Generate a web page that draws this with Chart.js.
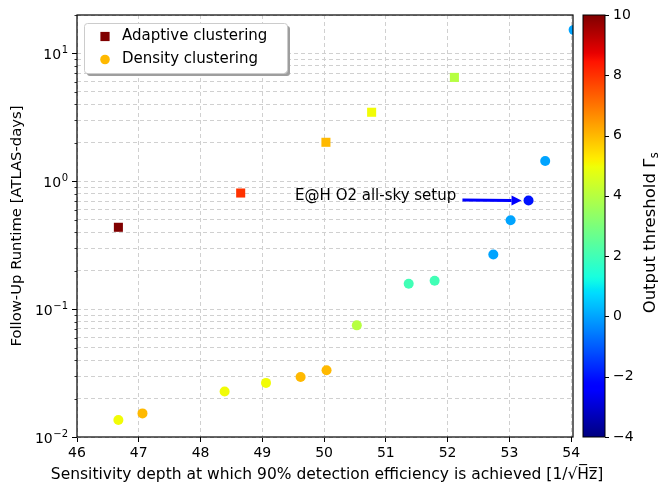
<!DOCTYPE html>
<html>
<head>
<meta charset="utf-8">
<script src="https://cdn.jsdelivr.net/npm/chart.js@4.4.1/dist/chart.umd.min.js"></script>
<style>
  html, body { margin: 0; padding: 0; background: #fff; }
  #wrap { width: 659px; height: 491px; }
</style>
</head>
<body>
<div id="wrap"><canvas id="chart" width="659" height="491"></canvas></div>
<script>
/* ── data ── */
const adaptiveX     = [46.67, 48.65, 50.03, 50.77, 52.11];
const adaptiveY     = [0.437, 0.81, 2.02, 3.47, 6.5];
const adaptiveGamma = [10, 8, 6, 5, 4];

const densityX     = [46.67, 47.06, 48.39, 49.06, 49.62, 50.04, 50.53, 51.37, 51.79, 52.74, 53.02, 53.31, 53.58, 54.04];
const densityY     = [0.0136, 0.0153, 0.0227, 0.0265, 0.0295, 0.0333, 0.0747, 0.158, 0.167, 0.268, 0.496, 0.707, 1.44, 15.3];
const densityGamma = [5, 6, 5, 5, 6, 6, 4, 2, 2, 0, 0, -2, 0, 0];

const xTicks  = [46, 47, 48, 49, 50, 51, 52, 53, 54];
const yMajor  = [0.01, 0.1, 1, 10];
const cbTicks = [-4, -2, 0, 2, 4, 6, 8, 10];

const xTitle = 'Sensitivity depth at which 90% detection efficiency is achieved [1/\u221AH\u0305z\u0305]';

const annText   = 'E@H O2 all-sky setup';
const annTarget = [53.31, 0.707];
const annTextAt = [52.14, 0.76];
const annTail   = [52.24, 0.715];

const FONT = 'DejaVu Sans';

/* ── matplotlib "jet" colormap ── */
const JET = {
  r: [[0, 0], [0.35, 0], [0.66, 1], [0.89, 1], [1, 0.5]],
  g: [[0, 0], [0.125, 0], [0.375, 1], [0.64, 1], [0.91, 0], [1, 0]],
  b: [[0, 0.5], [0.11, 1], [0.34, 1], [0.65, 0], [1, 0]]
};
function seg(pts, v) {
  for (let i = 1; i < pts.length; i++) {
    if (v <= pts[i][0]) {
      const [x0, y0] = pts[i - 1], [x1, y1] = pts[i];
      return y0 + (y1 - y0) * (v - x0) / (x1 - x0);
    }
  }
  return pts[pts.length - 1][1];
}
function jetNorm(v) {
  v = Math.min(1, Math.max(0, v));
  const c = k => Math.round(seg(JET[k], v) * 255);
  return `rgb(${c('r')},${c('g')},${c('b')})`;
}
const cbMin = cbTicks[0], cbMax = cbTicks[cbTicks.length - 1];
const jet = g => jetNorm((g - cbMin) / (cbMax - cbMin));

const isMajor = v => Math.abs(Math.log10(v) - Math.round(Math.log10(v))) < 1e-9;
const fmtExp = v => String(Math.round(Math.log10(v))).replace('-', '\u2212');
const fmtCb = v => v < 0 ? '\u2212' + Math.abs(v) : String(v);

const yAllTicks = [];
yMajor.forEach(m => { for (let k = 1; k <= 9; k++) if (k * m <= 20) yAllTicks.push(+(k * m).toPrecision(3)); });

/* ── custom drawing: frame, y labels, colorbar, legend, annotation ── */
const decorPlugin = {
  id: 'decor',
  afterDraw(chart) {
    const { ctx, chartArea: ca, scales } = chart;
    const y = scales.y, cb = scales.cb;
    ctx.save();

    // y ticks: major with 10^n labels, minor short
    ctx.strokeStyle = '#000'; ctx.fillStyle = '#000';
    y.ticks.forEach(t => {
      const py = Math.round(y.getPixelForValue(t.value)) + 0.5;
      const major = isMajor(t.value);
      ctx.lineWidth = major ? 1 : 0.8;
      ctx.beginPath(); ctx.moveTo(ca.left - (major ? 5 : 2.5), py); ctx.lineTo(ca.left, py); ctx.stroke();
      if (!major) return;
      const exp = fmtExp(t.value);
      ctx.textBaseline = 'alphabetic'; ctx.textAlign = 'right';
      ctx.font = `10px ${FONT}`;
      const we = ctx.measureText(exp).width;
      const xr = ca.left - 9;
      ctx.fillText(exp, xr, py - 1);
      ctx.font = `14px ${FONT}`;
      ctx.fillText('10', xr - we - 0.5, py + 5);
    });

    // x axis title (wider than the plot, so drawn here without squeezing)
    ctx.font = `15.5px ${FONT}`;
    ctx.textAlign = 'center'; ctx.textBaseline = 'middle';
    ctx.fillText(xTitle, (ca.left + ca.right) / 2 + 2, 475);

    // axes frame
    ctx.lineWidth = 1.2;
    ctx.strokeRect(ca.left, ca.top, ca.right - ca.left, ca.bottom - ca.top);

    // colorbar
    const bx = cb.left + 10, bw = 22;
    const top = cb.getPixelForValue(cbMax), bot = cb.getPixelForValue(cbMin);
    const grad = ctx.createLinearGradient(0, bot, 0, top);
    for (let i = 0; i <= 100; i++) grad.addColorStop(i / 100, jetNorm(i / 100));
    ctx.fillStyle = grad;
    ctx.fillRect(bx, top, bw, bot - top);
    ctx.lineWidth = 1;
    ctx.strokeStyle = '#000';
    ctx.strokeRect(bx, top, bw, bot - top);
    cb.ticks.forEach(t => {
      const py = Math.round(cb.getPixelForValue(t.value)) + 0.5;
      ctx.beginPath(); ctx.moveTo(bx + bw, py); ctx.lineTo(bx + bw + 4, py); ctx.stroke();
    });

    // colorbar label, reading upwards
    ctx.save();
    ctx.translate(651, (top + bot) / 2 + 7);
    ctx.rotate(-Math.PI / 2);
    ctx.fillStyle = '#000';
    ctx.textBaseline = 'middle';
    const main = 'Output threshold \u0393';
    ctx.font = `16.5px ${FONT}`;
    const wMain = ctx.measureText(main).width;
    ctx.font = `11.5px ${FONT}`;
    const wSub = ctx.measureText('s').width;
    const x0 = -(wMain + wSub) / 2;
    ctx.font = `16.5px ${FONT}`;
    ctx.textAlign = 'left';
    ctx.fillText(main, x0, 0);
    ctx.font = `11.5px ${FONT}`;
    ctx.fillText('s', x0 + wMain + 0.5, 4);
    ctx.restore();

    // legend box
    const lx = ca.left + 7, ly = ca.top + 8, lw = 203, lh = 50;
    ctx.fillStyle = '#9e9e9e';
    roundRect(ctx, lx + 3, ly + 3, lw, lh, 3); ctx.fill();
    ctx.fillStyle = '#fff';
    roundRect(ctx, lx, ly, lw, lh, 3); ctx.fill();
    ctx.strokeStyle = '#cccccc'; ctx.lineWidth = 1;
    roundRect(ctx, lx + 0.5, ly + 0.5, lw, lh, 3); ctx.stroke();

    chart.data.datasets.forEach((ds, i) => {
      const cy = ly + 13.5 + i * 23;
      const cx = lx + 21;
      ctx.fillStyle = ds.legendColor;
      if (ds.pointStyle === 'rect') ctx.fillRect(cx - 4.6, cy - 4.6, 9.2, 9.2);
      else { ctx.beginPath(); ctx.arc(cx, cy, 4.8, 0, Math.PI * 2); ctx.fill(); }
      ctx.fillStyle = '#000';
      ctx.font = `15px ${FONT}`;
      ctx.textAlign = 'left'; ctx.textBaseline = 'middle';
      ctx.fillText(ds.label, lx + 38, cy);
    });

    // annotation text + arrow
    const x = scales.x;
    ctx.fillStyle = '#000';
    ctx.font = `15px ${FONT}`;
    ctx.textAlign = 'right'; ctx.textBaseline = 'middle';
    ctx.fillText(annText, x.getPixelForValue(annTextAt[0]), y.getPixelForValue(annTextAt[1]));

    const tx = x.getPixelForValue(annTail[0]), ty = y.getPixelForValue(annTail[1]);
    const px = x.getPixelForValue(annTarget[0]), py = y.getPixelForValue(annTarget[1]);
    const ang = Math.atan2(py - ty, px - tx);
    const hx = px - Math.cos(ang) * 7, hy = py - Math.sin(ang) * 7;
    const hl = 10, hw = 5;
    const bx2 = hx - Math.cos(ang) * hl, by2 = hy - Math.sin(ang) * hl;
    ctx.strokeStyle = '#0000ff'; ctx.fillStyle = '#0000ff';
    ctx.lineWidth = 3;
    ctx.beginPath(); ctx.moveTo(tx, ty); ctx.lineTo(bx2, by2); ctx.stroke();
    ctx.beginPath();
    ctx.moveTo(hx, hy);
    ctx.lineTo(bx2 - Math.sin(ang) * hw, by2 + Math.cos(ang) * hw);
    ctx.lineTo(bx2 + Math.sin(ang) * hw, by2 - Math.cos(ang) * hw);
    ctx.closePath(); ctx.fill();

    ctx.restore();
  }
};

function roundRect(ctx, x, y, w, h, r) {
  ctx.beginPath();
  ctx.moveTo(x + r, y);
  ctx.arcTo(x + w, y, x + w, y + h, r);
  ctx.arcTo(x + w, y + h, x, y + h, r);
  ctx.arcTo(x, y + h, x, y, r);
  ctx.arcTo(x, y, x + w, y, r);
  ctx.closePath();
}

Chart.defaults.font.family = FONT;
Chart.defaults.color = '#000';

const gridDash = [4, 3];

new Chart(document.getElementById('chart'), {
  type: 'scatter',
  data: {
    datasets: [
      {
        label: 'Adaptive clustering',
        data: adaptiveX.map((x, i) => ({ x, y: adaptiveY[i] })),
        pointStyle: 'rect', pointRadius: 6.4, borderWidth: 0,
        backgroundColor: adaptiveGamma.map(jet),
        legendColor: jet(10), clip: 0
      },
      {
        label: 'Density clustering',
        data: densityX.map((x, i) => ({ x, y: densityY[i] })),
        pointStyle: 'circle', pointRadius: 5, borderWidth: 0,
        backgroundColor: densityGamma.map(jet),
        legendColor: jet(6), clip: 0
      }
    ]
  },
  options: {
    responsive: false, animation: false, devicePixelRatio: 1,
    layout: { padding: { top: 15, left: 0, right: 0, bottom: 0 } },
    plugins: { legend: { display: false }, tooltip: { enabled: false } },
    scales: {
      x: {
        type: 'linear', min: 46, max: 54.03,
        afterBuildTicks: s => { s.ticks = xTicks.map(v => ({ value: v })); },
        afterFit: s => { s.height = 54; },
        ticks: { font: { size: 14 }, padding: 3, callback: v => String(v) },
        grid: { color: '#d0d0d0', tickColor: '#000', tickLength: 5, lineWidth: 1 },
        border: { display: false, dash: gridDash },
        title: { display: false }
      },
      y: {
        type: 'logarithmic', min: 0.01, max: 20,
        afterBuildTicks: s => { s.ticks = yAllTicks.map(v => ({ value: v, major: isMajor(v) })); },
        afterFit: s => { s.width = 77; },
        ticks: { display: false },
        grid: { color: '#d0d0d0', lineWidth: 1, drawTicks: false },
        border: { display: false, dash: gridDash },
        title: {
          display: true, text: 'Follow-Up Runtime [ATLAS-days]',
          font: { size: 14.8 }, padding: { top: 8.5, bottom: 0 }
        }
      },
      cb: {
        type: 'linear', position: 'right', axis: 'y', min: cbMin, max: cbMax,
        afterBuildTicks: s => { s.ticks = cbTicks.map(v => ({ value: v })); },
        afterFit: s => { s.width = 86; },
        ticks: { font: { size: 14 }, padding: 4, callback: v => fmtCb(v) },
        grid: { drawOnChartArea: false, drawTicks: true, tickLength: 36, tickColor: 'rgba(0,0,0,0)' },
        border: { display: false }
      }
    }
  },
  plugins: [decorPlugin]
});
</script>
</body>
</html>
